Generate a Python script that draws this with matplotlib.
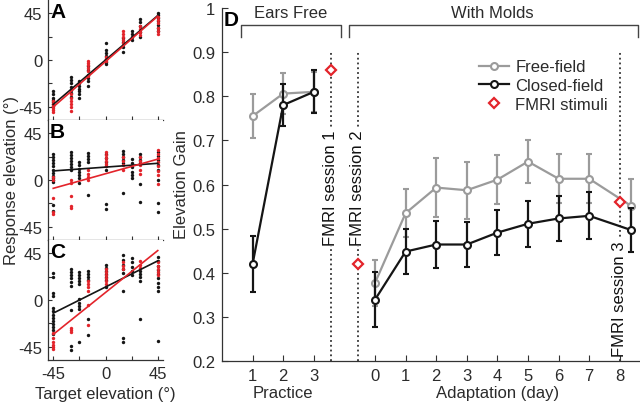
import matplotlib
matplotlib.use('Agg')
import matplotlib.pyplot as plt
from matplotlib.lines import Line2D
from matplotlib.transforms import blended_transform_factory
import numpy as np

plt.rcParams['font.family'] = ['Liberation Sans', 'DejaVu Sans']
plt.rcParams['axes.unicode_minus'] = False

# ---------------- data: panels A-C (target -> responses, degrees) ----------------
A_black = {-45: [-30, -33, -36, -38, -40, -42, -44],
           -30: [-16, -19, -22, -26, -29, -32, -35],
           -22.5: [-20, -22, -25, -28, -30, -33, -36],
           -15: [-6, -10, -14, -17, -20, -25],
           0: [16, 10, 7, 4, 1, -2, -4],
           15: [21, 17, 12, 8],
           22.5: [28, 25, 22, 19],
           30: [39, 36, 33, 27, 22],
           45: [45, 43, 40, 37, 34, 31, 28]}
A_red = {-45: [-39, -42, -44, -46, -48, -50],
         -30: [-33, -36, -39, -42, -45, -49],
         -15: [-1, -3, -5, -8, -11, -15],
         0: [3, 1, -1],
         15: [28, 25, 22, 19, 16],
         30: [33, 30, 27, 24],
         45: [41, 38, 35, 31, 28, 25]}
B_black = {-45: [25, 22, 19, 16, 13, 10, 7, 4, 2, 0, -2, -24, -30],
           -30: [27, 24, 21, 18, 15, 12, 10],
           -22.5: [17, 14, 11, 8, 5, 2, -3],
           -15: [26, 23, 20, 17, -14],
           0: [25, 21, 17, 13, 10, -23, -28],
           15: [28, 25, 22, 19, 16, -12],
           22.5: [20, 16, 12, 8, 5, 2],
           30: [25, 22, 19, 16, -4, -21],
           45: [27, 23, 19, 14, 10, 0, -22, -31]}
B_red = {-45: [3, 0, -17, -31, -33],
         -30: [0, -3, -15, -25, -27],
         -15: [10, 6, 3, 0],
         0: [27, 24, 21, 18, 15, 13],
         15: [22, 18, 14, 10],
         30: [22, 18, 14, 10, 6],
         45: [29, 25, 21, 17, 13, 9, 5, -4]}
C_black = {-45: [26, 22, 7, 4, -8, -11, -14, -17, -20, -23, -26, -29, -33],
           -30: [30, 27, 24, 21, 17, 13, -10, -44, -48],
           -22.5: [27, 24, 21, 18, 15, 1, -3, -6, -9, -40],
           -15: [28, 25, 22, 19, -18, -34],
           0: [34, 31, 28, 25, 22, 19, 12],
           15: [43, 38, 34, 30, 26, 9, -36, -40],
           22.5: [40, 36, 32, 28, 24],
           30: [28, 25, 22, 18, -18],
           45: [41, 37, 33, 29, 25, 21, 16, 12, 9, -39]}
C_red = {-45: [-32, -36, -40, -43, -45, -47],
         -30: [-27, -29, -31],
         -15: [18, 15, 12, 9, -5, -24],
         0: [30, 27, 24, 21, 18, 15],
         15: [36, 33, 30],
         30: [37, 34, 31],
         45: [36, 33, 30, 27, 24]}
# regression fits (slope, intercept)
A_fit_black = (0.947, 0.0)
A_fit_red = (0.967, -1.5)
B_fit_black = (0.081, 12.35)
B_fit_red = (0.311, 6.0)
C_fit_black = (0.557, 12.45)
C_fit_red = (0.893, 7.2)

# ---------------- data: panel D ----------------
practice_sessions = [1, 2, 3]
practice_free = [0.755, 0.806, 0.81]
practice_free_err = [0.05, 0.046, 0.045]
practice_closed = [0.42, 0.78, 0.81]
practice_closed_err = [0.064, 0.047, 0.049]

adapt_days = [0, 1, 2, 3, 4, 5, 6, 7, 8]
adapt_free = [0.377, 0.535, 0.593, 0.587, 0.611, 0.652, 0.613, 0.613, 0.552]
adapt_free_err = [0.053, 0.055, 0.066, 0.065, 0.055, 0.048, 0.055, 0.055, 0.06]
adapt_closed = [0.339, 0.448, 0.464, 0.464, 0.491, 0.511, 0.523, 0.529, 0.497]
adapt_closed_err = [0.063, 0.051, 0.053, 0.05, 0.051, 0.052, 0.05, 0.053, 0.05]

fmri_labels = ['FMRI session 1', 'FMRI session 2', 'FMRI session 3']
fmri_gain = [0.86, 0.42, 0.56]

# ---------------- styling / layout ----------------
W, H = 640, 406
fig = plt.figure(figsize=(6.4, 4.06), dpi=100)
TXT = '#2b2b2b'
GRAY = '#9b9b9b'
BLACK = '#151515'
RED = '#e3242b'
FS = 12


def px_axes(l, t, r, b):
    return fig.add_axes([l / W, 1 - b / H, (r - l) / W, (b - t) / H])


panels = [('A', A_black, A_red, A_fit_black, A_fit_red),
          ('B', B_black, B_red, B_fit_black, B_fit_red),
          ('C', C_black, C_red, C_fit_black, C_fit_red)]
tops = [1, 121, 241]
ticks = [-45, -22.5, 0, 22.5, 45]
ticklabels = ['-45', '', '0', '', '45']
for i, (name, blk, red, fb, fr) in enumerate(panels):
    top = tops[i]
    ax = px_axes(48, top, 163, top + 120)
    ax.set_xlim(-49.5, 49.5)
    ax.set_ylim(-57.5, 57.5)
    for s in ['top', 'right']:
        ax.spines[s].set_visible(False)
    for s in ['left', 'bottom']:
        ax.spines[s].set_color('#333333')
        ax.spines[s].set_linewidth(0.9)
    for t, vals in blk.items():
        ax.scatter([t] * len(vals), vals, s=6, c=BLACK, linewidths=0, zorder=2)
    for t, vals in red.items():
        ax.scatter([t] * len(vals), vals, s=6, c=RED, linewidths=0, zorder=3)
    xx = np.array([-45, 45])
    ax.plot(xx, fb[0] * xx + fb[1], color=BLACK, lw=1.2, zorder=4)
    ax.plot(xx, fr[0] * xx + fr[1], color=RED, lw=1.2, zorder=5)
    ax.set_yticks(ticks)
    ax.set_yticklabels(ticklabels)
    ax.set_xticks(ticks)
    if i == 2:
        ax.set_xticklabels(ticklabels)
    else:
        ax.set_xticklabels([])
    ax.tick_params(direction='in', length=3, labelsize=FS, labelcolor=TXT,
                   color='#333333', pad=4)
    fig.text(50 / W, 1 - (top + 12) / H, name, fontsize=15, fontweight='bold',
             ha='left', va='center', color='black')

fig.text(12 / W, 1 - 181 / H, 'Response elevation (°)', rotation=90,
         ha='center', va='center', fontsize=FS, color=TXT)
fig.text(105 / W, 1 - 395 / H, 'Target elevation (°)', ha='center',
         va='center', fontsize=FS, color=TXT)

# ---------------- panel D ----------------
ax = px_axes(222, 9, 640, 362)
ax.set_xlim(0, 13.66)
ax.set_ylim(0.2, 1.0)
for s in ['top', 'right']:
    ax.spines[s].set_visible(False)
for s in ['left', 'bottom']:
    ax.spines[s].set_color('#333333')
    ax.spines[s].set_linewidth(0.9)

ADAPT_OFFSET = 5
adapt_pos = [d + ADAPT_OFFSET for d in adapt_days]
adapt_pos[-1] += 0.36
fmri_pos = [3.55, 4.43, 8 + ADAPT_OFFSET]
fmri_text_y = [0.593, 0.593, 0.343]

ekw = dict(marker='o', mfc='white', ms=5, mew=1.5, lw=1.6, capsize=2.2,
           elinewidth=1.6, capthick=1.6)
ax.errorbar(practice_sessions, practice_free, yerr=practice_free_err, color=GRAY,
            mec=GRAY, zorder=3, **ekw)
ax.errorbar(adapt_pos, adapt_free, yerr=adapt_free_err, color=GRAY,
            mec=GRAY, zorder=3, **ekw)
ax.errorbar(practice_sessions, practice_closed, yerr=practice_closed_err,
            color=BLACK, mec=BLACK, zorder=4, **ekw)
ax.errorbar(adapt_pos, adapt_closed, yerr=adapt_closed_err, color=BLACK,
            mec=BLACK, zorder=4, **ekw)

for xp, lab, ty in zip(fmri_pos, fmri_labels, fmri_text_y):
    ax.plot([xp, xp], [0.2, 0.905], ls=':', color='#333333', lw=1.3, zorder=1)
    ax.text(xp, ty, lab, rotation=90, ha='center', va='center', fontsize=FS,
            color='#111111', zorder=2,
            bbox=dict(fc='white', ec='none', pad=0.5))
ax.plot(fmri_pos, fmri_gain, ls='none', marker='D', ms=4.8, mfc='white',
        mec=RED, mew=1.6, zorder=6)

# brackets
bk = dict(color='#444444', lw=1.0, clip_on=False)
ax.plot([0.61, 0.61, 3.88, 3.88], [0.934, 0.961, 0.961, 0.934], **bk)
ax.plot([4.14, 4.14, 13.58, 13.58], [0.934, 0.961, 0.961, 0.934], **bk)
ax.text(2.24, 0.989, 'Ears Free', ha='center', va='center', fontsize=FS, color=TXT)
ax.text(8.84, 0.989, 'With Molds', ha='center', va='center', fontsize=FS, color=TXT)

ax.set_yticks([0.2, 0.3, 0.4, 0.5, 0.6, 0.7, 0.8, 0.9, 1.0])
ax.set_yticklabels(['0.2', '0.3', '0.4', '0.5', '0.6', '0.7', '0.8', '0.9', '1'])
xt = list(practice_sessions) + [d + ADAPT_OFFSET for d in adapt_days]
ax.set_xticks(xt)
ax.set_xticklabels([str(v) for v in practice_sessions] + [str(d) for d in adapt_days])
ax.tick_params(direction='in', length=4, labelsize=FS, labelcolor=TXT,
               color='#333333', pad=5)

bt = blended_transform_factory(ax.transData, ax.transAxes)
ax.text(2, -0.088, 'Practice', transform=bt, ha='center', va='center',
        fontsize=FS, color=TXT)
ax.text(4 + ADAPT_OFFSET, -0.088, 'Adaptation (day)', transform=bt, ha='center',
        va='center', fontsize=FS, color=TXT)
fig.text(182 / W, 1 - 185 / H, 'Elevation Gain', rotation=90, ha='center',
         va='center', fontsize=FS, color=TXT)
fig.text(224 / W, 1 - 21 / H, 'D', fontsize=15, fontweight='bold', ha='left',
         va='center', color='black')

handles = [Line2D([], [], color=GRAY, lw=1.6, marker='o', ms=5, mfc='white',
                  mec=GRAY, mew=1.5),
           Line2D([], [], color=BLACK, lw=1.6, marker='o', ms=5, mfc='white',
                  mec=BLACK, mew=1.5),
           Line2D([], [], ls='none', marker='D', ms=4.8, mfc='white', mec=RED,
                  mew=1.6)]
fig.legend(handles, ['Free-field', 'Closed-field', 'FMRI stimuli'],
           loc='upper left', bbox_to_anchor=(471 / W, 1 - 52 / H),
           bbox_transform=fig.transFigure, frameon=False, borderpad=0,
           handlelength=1.8, handletextpad=0.35, labelspacing=0.22,
           fontsize=FS, labelcolor=TXT)

fig.savefig('out.png', dpi=100)
